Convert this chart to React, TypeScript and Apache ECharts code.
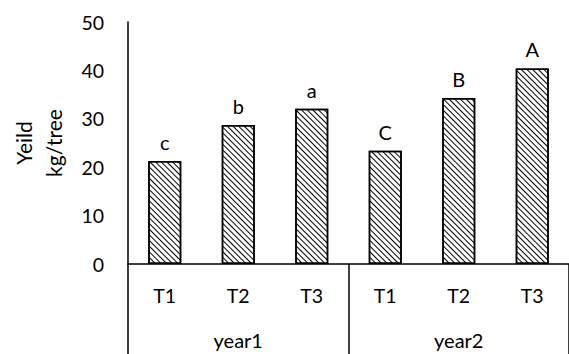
import React, { useEffect, useRef } from "react";
import * as echarts from "echarts";

const treatments = ["T1", "T2", "T3", "T1", "T2", "T3"];
const years = ["year1", "year2"];
const yieldValues = [21.3, 28.7, 32.1, 23.4, 34.3, 40.4];
const letters = ["c", "b", "a", "C", "B", "A"];
const yTicks = { min: 0, max: 50, interval: 10 };

const FONT = "Lato, 'Open Sans', sans-serif";

export default function App() {
  const ref = useRef<HTMLDivElement>(null);
  useEffect(() => {
    document.body.style.margin = "0";
    const chart = echarts.init(ref.current!, null, { renderer: "svg" });
    chart.setOption({
      animation: false,
      textStyle: { fontFamily: FONT, color: "#000" },
      grid: { left: 125, top: 22, width: 451, height: 242, containLabel: false },
      xAxis: [
        {
          type: "category",
          data: treatments,
          position: "bottom",
          axisLine: { show: true, lineStyle: { color: "#000", width: 1.5 } },
          axisTick: { show: false },
          axisLabel: { color: "#000", fontSize: 19.5, fontFamily: FONT, margin: 21 },
        },
        {
          type: "category",
          data: years,
          position: "bottom",
          axisLine: { show: false },
          axisTick: { show: true, length: 92, lineStyle: { color: "#000", width: 1.5 } },
          axisLabel: { color: "#000", fontSize: 20, fontFamily: FONT, margin: 66 },
        },
      ],
      yAxis: {
        type: "value",
        min: yTicks.min,
        max: yTicks.max,
        interval: yTicks.interval,
        name: "Yeild\nkg/tree",
        nameLocation: "middle",
        nameRotate: 90,
        nameGap: 60,
        nameTextStyle: { color: "#000", fontSize: 21, fontFamily: FONT, lineHeight: 30 },
        axisLine: { show: true, lineStyle: { color: "#000", width: 1.5 } },
        axisTick: { show: false },
        splitLine: { show: false },
        axisLabel: { color: "#000", fontSize: 19.5, fontFamily: FONT, margin: 24 },
      },
      series: [
        {
          type: "bar",
          xAxisIndex: 0,
          data: yieldValues,
          barWidth: 33,
          itemStyle: {
            color: "#fff",
            borderColor: "#000",
            borderWidth: 1.5,
            decal: {
              symbol: "rect",
              symbolSize: 1,
              dashArrayX: [1, 0],
              dashArrayY: [1, 2.2],
              rotation: Math.PI / 4,
              color: "#000",
              backgroundColor: "#fff",
            },
          },
          label: {
            show: true,
            position: "top",
            distance: 9,
            color: "#000",
            fontSize: 20,
            fontFamily: FONT,
            formatter: (p: any) => letters[p.dataIndex],
          },
        },
      ],
    });
    return () => chart.dispose();
  }, []);
  return <div ref={ref} style={{ width: 569, height: 354 }} />;
}
